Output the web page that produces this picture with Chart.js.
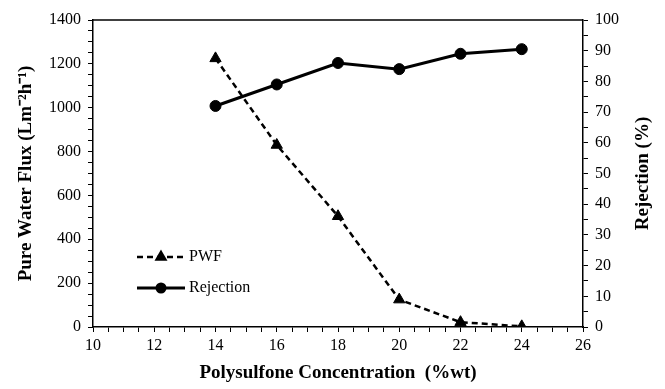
<!DOCTYPE html>
<html>
<head>
<meta charset="utf-8">
<script src="https://cdn.jsdelivr.net/npm/chart.js@4"></script>
<style>
    html, body { margin: 0; padding: 0; background: #fff; }
    #wrap { width: 665px; height: 389px; }
</style>
</head>
<body>
<div id="wrap"><canvas id="fluxChart" width="665" height="389"></canvas></div>
<script>
// Chart data
const concentrations = [14, 16, 18, 20, 22, 24];
const pwfValues = [1225, 830, 505, 125, 22, 3];
const rejectionValues = [72, 79, 86, 84, 89, 90.5];
const xTickLabels = [10, 12, 14, 16, 18, 20, 22, 24, 26];
const fluxTickLabels = [0, 200, 400, 600, 800, 1000, 1200, 1400];
const rejectionTickLabels = [0, 10, 20, 30, 40, 50, 60, 70, 80, 90, 100];

Chart.defaults.font.family = '"Liberation Serif", "Times New Roman", serif';
Chart.defaults.color = '#000';

// Box line across the top of the plot area, plus the right axis title
// (Chart.js turns right titles the other way round, the figure reads bottom-up)
const frameLine = {
    id: 'frameLine',
    afterDraw(chart) {
        const { ctx, chartArea } = chart;
        ctx.save();
        ctx.strokeStyle = '#000';
        ctx.lineWidth = 1.5;
        ctx.beginPath();
        ctx.moveTo(chartArea.left, chartArea.top);
        ctx.lineTo(chartArea.right, chartArea.top);
        ctx.stroke();

        ctx.translate(643, (chartArea.top + chartArea.bottom) / 2);
        ctx.rotate(-Math.PI / 2);
        ctx.fillStyle = '#000';
        ctx.font = 'bold 19px "Liberation Serif", serif';
        ctx.textAlign = 'center';
        ctx.textBaseline = 'middle';
        ctx.fillText('Rejection (%)', 0, 0);
        ctx.restore();
    }
};

// Legend drawn inside the plot, lower left
const insideLegend = {
    id: 'insideLegend',
    afterDraw(chart) {
        const { ctx } = chart;
        const rows = [{ i: 0, y: 257 }, { i: 1, y: 288 }];
        ctx.save();
        rows.forEach(row => {
            const ds = chart.data.datasets[row.i];
            ctx.strokeStyle = '#000';
            ctx.lineWidth = ds.borderWidth;
            ctx.setLineDash(ds.borderDash || []);
            ctx.beginPath();
            ctx.moveTo(137, row.y);
            ctx.lineTo(185, row.y);
            ctx.stroke();
            ctx.setLineDash([]);
            ctx.fillStyle = '#000';
            Chart.helpers.drawPoint(ctx, {
                pointStyle: ds.pointStyle,
                radius: ds.pointRadius - 1.5,
                rotation: 0,
                borderWidth: 1
            }, 161, row.y);
            ctx.font = '16px "Liberation Serif", serif';
            ctx.textBaseline = 'middle';
            ctx.fillText(ds.label, 189, row.y);
        });
        ctx.restore();
    }
};

function axisGrid() {
    return { display: true, drawOnChartArea: false, drawTicks: true, tickLength: 5, color: '#000', lineWidth: 1 };
}

function axisBorder() {
    return { display: true, color: '#000', width: 1.5 };
}

const ctx = document.getElementById('fluxChart').getContext('2d');
new Chart(ctx, {
    type: 'line',
    data: {
        datasets: [
            {
                label: 'PWF',
                data: concentrations.map((c, i) => ({ x: c, y: pwfValues[i] })),
                yAxisID: 'y',
                borderColor: '#000',
                backgroundColor: '#000',
                borderWidth: 2.5,
                borderDash: [6, 4],
                pointStyle: 'triangle',
                pointRadius: 6.5,
                pointBorderWidth: 1
            },
            {
                label: 'Rejection',
                data: concentrations.map((c, i) => ({ x: c, y: rejectionValues[i] })),
                yAxisID: 'y1',
                borderColor: '#000',
                backgroundColor: '#000',
                borderWidth: 3,
                pointStyle: 'circle',
                pointRadius: 5.5,
                pointBorderWidth: 1
            }
        ]
    },
    options: {
        responsive: false,
        animation: false,
        layout: { padding: { top: 20, left: 0, right: 0, bottom: 0 } },
        plugins: {
            legend: { display: false },
            tooltip: { enabled: false }
        },
        scales: {
            x: {
                type: 'linear',
                min: 10,
                max: 26,
                grid: axisGrid(),
                border: axisBorder(),
                ticks: {
                    stepSize: 0.5,
                    autoSkip: false,
                    maxRotation: 0,
                    padding: 4,
                    font: { size: 16 },
                    callback: v => xTickLabels.includes(v) ? String(v) : ''
                },
                title: {
                    display: true,
                    text: 'Polysulfone Concentration  (%wt)',
                    font: { size: 19, weight: 'bold' },
                    padding: { top: 0, bottom: 5 }
                },
                afterFit(scale) { scale.height = 62; }
            },
            y: {
                position: 'left',
                min: 0,
                max: 1400,
                grid: axisGrid(),
                border: axisBorder(),
                ticks: {
                    stepSize: 50,
                    autoSkip: false,
                    padding: 7,
                    font: { size: 16 },
                    callback: v => fluxTickLabels.includes(v) ? String(v) : ''
                },
                title: {
                    display: true,
                    text: 'Pure Water Flux (Lm⁻²h⁻¹)',
                    font: { size: 19, weight: 'bold' },
                    padding: { top: 15, bottom: 0 }
                },
                afterFit(scale) { scale.width = 93; }
            },
            y1: {
                position: 'right',
                min: 0,
                max: 100,
                grid: axisGrid(),
                border: axisBorder(),
                ticks: {
                    stepSize: 5,
                    autoSkip: false,
                    padding: 7,
                    font: { size: 16 },
                    callback: v => rejectionTickLabels.includes(v) ? String(v) : ''
                },
                afterFit(scale) { scale.width = 82; }
            }
        }
    },
    plugins: [frameLine, insideLegend]
});
</script>
</body>
</html>
